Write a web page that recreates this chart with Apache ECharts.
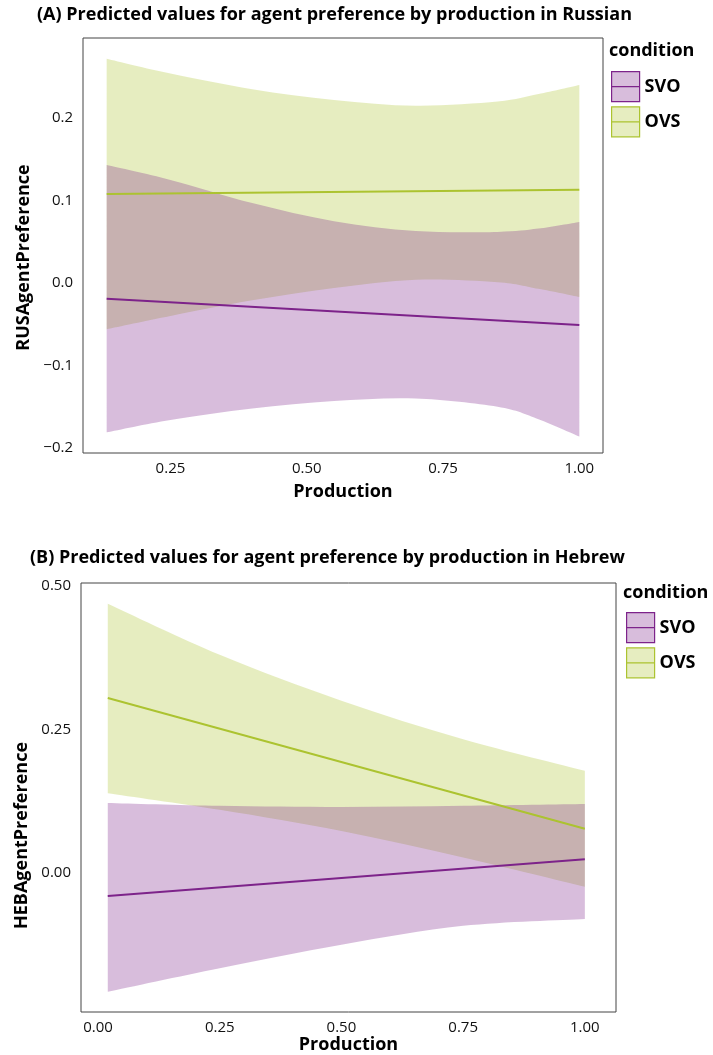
<!DOCTYPE html>
<html>
<head>
<meta charset="utf-8">
<script src="https://cdn.jsdelivr.net/npm/echarts@6/dist/echarts.min.js"></script>
<style>
  html, body { margin: 0; padding: 0; background: #fff; }
  #chart { width: 713px; height: 1055px; }
</style>
</head>
<body>
<div id="chart"></div>
<script>
// (A) Russian: confidence bands and fitted lines
var rusX = [0.133, 0.25, 0.4, 0.55, 0.7, 0.85, 0.925, 1.0];
var rusOvsUpper = [0.272, 0.254, 0.235, 0.222, 0.215, 0.220, 0.229, 0.240];
var rusOvsLower = [-0.056, -0.040, -0.021, -0.006, 0.004, 0.001, -0.007, -0.017];
var rusSvoUpper = [0.143, 0.125, 0.097, 0.075, 0.063, 0.062, 0.066, 0.074];
var rusSvoLower = [-0.181, -0.166, -0.152, -0.143, -0.140, -0.150, -0.165, -0.186];
var rusLineX = [0.133, 1.0];
var rusOvsFit = [0.108, 0.113];
var rusSvoFit = [-0.019, -0.051];
var rusXTicks = [0.25, 0.5, 0.75, 1.0];
var rusYTicks = [-0.2, -0.1, 0, 0.1, 0.2];

// (B) Hebrew
var hebX = [0.02, 0.25, 0.5, 0.75, 1.0];
var hebOvsUpper = [0.469, 0.380, 0.300, 0.233, 0.178];
var hebOvsLower = [0.139, 0.110, 0.073, 0.027, -0.024];
var hebSvoUpper = [0.122, 0.117, 0.115, 0.117, 0.120];
var hebSvoLower = [-0.207, -0.166, -0.125, -0.092, -0.080];
var hebLineX = [0.02, 1.0];
var hebOvsFit = [0.305, 0.077];
var hebSvoFit = [-0.040, 0.024];
var hebXTicks = [0, 0.25, 0.5, 0.75, 1.0];
var hebYTicks = [0, 0.25, 0.5];

var conditions = ['SVO', 'OVS'];
var lineColors = { SVO: '#7d238a', OVS: '#acc330' };
var fillColors = { SVO: 'rgba(125,35,138,0.3)', OVS: 'rgba(172,195,48,0.3)' };

var FONT = 'Open Sans';
var chart = echarts.init(document.getElementById('chart'));

function pairs(xs, ys) {
  return xs.map(function (x, i) { return [x, ys[i]]; });
}

// smooth curve through pixel points (cardinal spline), appended to a path string
function curve(pts, start) {
  var d = (start ? 'M' : 'L') + pts[0][0] + ',' + pts[0][1];
  var t = 0.5;
  for (var i = 0; i < pts.length - 1; i++) {
    var p0 = pts[Math.max(i - 1, 0)], p1 = pts[i], p2 = pts[i + 1], p3 = pts[Math.min(i + 2, pts.length - 1)];
    var c1x = p1[0] + (p2[0] - p0[0]) * t / 3, c1y = p1[1] + (p2[1] - p0[1]) * t / 3;
    var c2x = p2[0] - (p3[0] - p1[0]) * t / 3, c2y = p2[1] - (p3[1] - p1[1]) * t / 3;
    d += 'C' + c1x + ',' + c1y + ',' + c2x + ',' + c2y + ',' + p2[0] + ',' + p2[1];
  }
  return d;
}

// ribbon between lower and upper, drawn once from all rows of the series data
function band(idx, name, xs, lower, upper) {
  return {
    type: 'custom', name: name + ' band', xAxisIndex: idx, yAxisIndex: idx,
    silent: true, z: 1,
    data: xs.map(function (x, i) { return [x, lower[i], upper[i]]; }),
    encode: { x: 0, y: [1, 2] },
    renderItem: function (params, api) {
      if (params.dataIndexInside !== 0) return null;
      var n = params.dataInsideLength;
      var up = [], lo = [];
      for (var i = 0; i < n; i++) {
        up.push(api.coord([api.value(0, i), api.value(2, i)]));
        lo.push(api.coord([api.value(0, i), api.value(1, i)]));
      }
      lo.reverse();
      return {
        type: 'path', shape: { pathData: curve(up, true) + curve(lo, false) + 'Z' },
        style: { fill: fillColors[name], stroke: null }
      };
    }
  };
}

function fit(idx, name, xs, ys) {
  return {
    type: 'line', name: name, xAxisIndex: idx, yAxisIndex: idx,
    data: pairs(xs, ys), showSymbol: false, silent: true, z: 3,
    lineStyle: { color: lineColors[name], width: 2 }, itemStyle: { color: lineColors[name] }
  };
}

function xAxis(idx, min, max, ticks, gap) {
  return {
    type: 'value', gridIndex: idx, min: min, max: max,
    name: 'Production', nameLocation: 'middle', nameGap: gap,
    nameTextStyle: { fontFamily: FONT, fontSize: 18, fontWeight: 'bold', color: '#000' },
    axisLine: { show: false }, axisTick: { show: false }, splitLine: { show: false },
    axisLabel: {
      customValues: ticks, margin: 8, fontFamily: FONT, fontSize: 15, color: '#111',
      formatter: function (v) { return v.toFixed(2); }
    }
  };
}

// shift moves the rotated name down along the axis (px)
function yAxis(idx, name, min, max, ticks, digits, gap, shift) {
  return {
    type: 'value', gridIndex: idx, min: min, max: max,
    name: name, nameLocation: 'middle', nameGap: gap, nameRotate: 90,
    nameTextStyle: {
      fontFamily: FONT, fontSize: 18, fontWeight: 'bold', color: '#000',
      padding: [0, shift * 2, 0, 0]
    },
    axisLine: { show: false }, axisTick: { show: false }, splitLine: { show: false },
    axisLabel: {
      customValues: ticks, margin: 10, fontFamily: FONT, fontSize: 15, color: '#111',
      formatter: function (v) { return v.toFixed(digits).replace('-', '\u2212'); }
    }
  };
}

var keyIcon = 'path://M0,0H28V30H0Z M0,15H28';

function legend(left, top) {
  return {
    orient: 'vertical', left: left, top: top, padding: 0,
    itemWidth: 28, itemHeight: 30, itemGap: 4, icon: keyIcon, selectedMode: false,
    textStyle: { fontFamily: FONT, fontSize: 18, fontWeight: 'bold', color: '#000' },
    data: conditions.map(function (c) {
      return { name: c, itemStyle: { color: fillColors[c], borderColor: lineColors[c], borderWidth: 1.2 } };
    })
  };
}

var titleStyle = { fontFamily: FONT, fontSize: 18, fontWeight: 'bold', color: '#000' };

var series = [
  band(0, 'OVS', rusX, rusOvsLower, rusOvsUpper),
  band(0, 'SVO', rusX, rusSvoLower, rusSvoUpper),
  fit(0, 'SVO', rusLineX, rusSvoFit),
  fit(0, 'OVS', rusLineX, rusOvsFit),
  band(1, 'OVS', hebX, hebOvsLower, hebOvsUpper),
  band(1, 'SVO', hebX, hebSvoLower, hebSvoUpper),
  fit(1, 'SVO', hebLineX, hebSvoFit),
  fit(1, 'OVS', hebLineX, hebOvsFit)
];

chart.setOption({
  animation: false,
  title: [
    { text: '(A) Predicted values for agent preference by production in Russian', left: 37, top: 6, padding: 0, textStyle: titleStyle },
    { text: 'condition', left: 609, top: 42, padding: 0, textStyle: titleStyle },
    { text: '(B) Predicted values for agent preference by production in Hebrew', left: 30, top: 549, padding: 0, textStyle: titleStyle },
    { text: 'condition', left: 623, top: 584, padding: 0, textStyle: titleStyle }
  ],
  legend: [legend(611, 71), legend(626, 612)],
  grid: [
    { left: 83, top: 38, right: 110, bottom: 602, show: true, borderColor: '#444', borderWidth: 1 },
    { left: 81, top: 583, right: 97, bottom: 43, show: true, borderColor: '#444', borderWidth: 1 }
  ],
  xAxis: [
    xAxis(0, 0.0896, 1.0434, rusXTicks, 30),
    xAxis(1, -0.035, 1.064, hebXTicks, 22)
  ],
  yAxis: [
    yAxis(0, 'RUSAgentPreference', -0.206, 0.297, rusYTicks, 1, 32, 12),
    yAxis(1, 'HEBAgentPreference', -0.2422, 0.5052, hebYTicks, 2, 48, 38)
  ],
  series: series
});
</script>
</body>
</html>
